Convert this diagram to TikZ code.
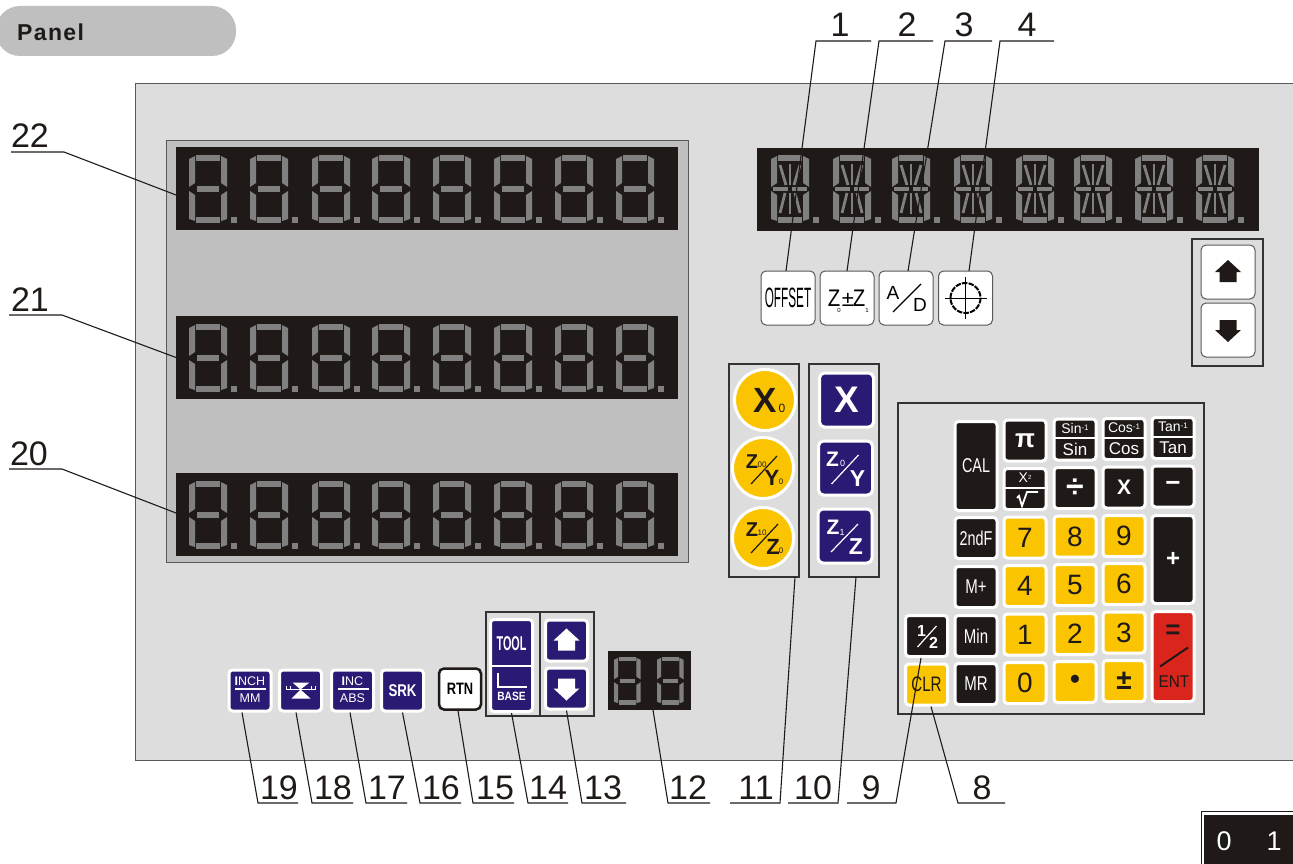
\documentclass[tikz,border=0pt]{standalone}
\usepackage{fontspec}
\setmainfont{Liberation Sans}
\usepackage{tikz}
\usetikzlibrary{calc}
\definecolor{dkbar}{HTML}{1F1A17}
\definecolor{segcol}{HTML}{808080}
\definecolor{panelbg}{HTML}{DDDDDD}
\definecolor{groupbg}{HTML}{BFBFBF}
\definecolor{keyblue}{HTML}{2B1A73}
\definecolor{keyyel}{HTML}{FAC400}
\definecolor{keyred}{HTML}{DA251D}
\newcommand{\pxfont}[1]{\fontsize{#1}{#1}\selectfont}
\newcommand{\cond}[2]{\scalebox{#1}[1]{#2}}
\tikzset{
  plate/.style={rectangle, inner sep=0pt, outer sep=0pt},
  darkbar/.style={plate, fill=dkbar},
  grpbox/.style={plate, draw=black!80, line width=1.2pt},
  whitebtn/.style={plate, fill=white, draw=black!65, line width=1pt, rounded corners=5pt, minimum size=54pt},
  padkey/.style={rectangle, inner sep=0pt, fill=dkbar, draw=white, line width=3pt, rounded corners=3.5pt, minimum width=42pt, minimum height=41pt, text=white},
  yelkey/.style={padkey, fill=keyyel, text=dkbar},
  bluekey/.style={padkey, fill=keyblue},
  yelcirc/.style={circle, inner sep=0pt, fill=keyyel, draw=white, line width=3pt, minimum size=61pt, text=dkbar},
  numlbl/.style={anchor=base, inner sep=0pt, font=\pxfont{34}, text=dkbar},
  leader/.style={draw=dkbar, line width=1.1pt},
  glyphline/.style={line width=1.2pt}
}
\newcommand{\segbase}[3]{%
  \begin{scope}[shift={(#1,#2)},scale=#3]
    \fill[segcol] (7,0) rectangle (31,6);
    \fill[segcol] (7,62) rectangle (31,68);
    \fill[segcol] (0,4) -- (6,1) -- (6,28) -- (0,32) -- cycle;
    \fill[segcol] (38,4) -- (32,1) -- (32,28) -- (38,32) -- cycle;
    \fill[segcol] (0,36) -- (6,40) -- (6,66) -- (0,64) -- cycle;
    \fill[segcol] (38,36) -- (32,40) -- (32,66) -- (38,64) -- cycle;
  \end{scope}}
\newcommand{\segdigit}[3]{%
  \segbase{#1}{#2}{#3}
  \fill[segcol,shift={(#1,#2)},scale=#3] (8,31) rectangle (30,37);}
\newcommand{\alphadigit}[2]{%
  \segbase{#1}{#2}{1}
  \begin{scope}[shift={(#1,#2)}]
    \fill[segcol] (2,32) rectangle (17,36);
    \fill[segcol] (21,32) rectangle (36,36);
    \draw[segcol,line width=2.8pt] (19,9) -- (19,30);
    \draw[segcol,line width=2.8pt] (19,38) -- (19,59);
    \draw[segcol,line width=2.8pt] (9,10) -- (15,30);
    \draw[segcol,line width=2.8pt] (29,10) -- (23,30);
    \draw[segcol,line width=2.8pt] (9,58) -- (14,38);
    \draw[segcol,line width=2.8pt] (29,58) -- (24,38);
  \end{scope}}
\newcommand{\segdot}[2]{\fill[segcol,shift={(#1,#2)}] (42,62) rectangle ++(6,6);}
\newcommand{\putlabels}[3]{%
  \foreach \sz/\dx/\dy/\txt [count=\i] in {#3}
    \node[inner sep=0pt, #2, font=\pxfont{\sz}] (#1-\i) at ([shift={(\dx,\dy)}]#1.center) {\txt};}
\newcommand{\slashon}[6]{\draw[glyphline,#2] ([shift={(#3,#4)}]#1.center) -- ([shift={(#5,#6)}]#1.center);}
\newcommand{\twokey}[1]{\draw[white,line width=2pt] ([shift={(0,-1.5)}]#1.west) -- ([shift={(0,-1.5)}]#1.east);}
\newcommand{\keyarrow}[3]{\fill[#2,shift={(#1.center)},yscale=#3] (0,-12) -- (13,0) -- (8.5,0) -- (8.5,10) -- (-8.5,10) -- (-8.5,0) -- (-13,0) -- cycle;}

\begin{document}
\begin{tikzpicture}[x=1pt,y=-1pt]
  \useasboundingbox[fill=white] (0,0) rectangle (1293,864);

  % header and panel
  \node[plate, fill=groupbg, rounded corners=24pt, minimum width=240pt, minimum height=50pt] (pill) at (116,31) {};
  \node[inner sep=0pt, anchor=west, font=\bfseries\pxfont{23}\addfontfeature{LetterSpace=6}, text=dkbar] (pilltxt) at (17,32) {Panel};
  \node[plate, fill=panelbg, draw=black!65, line width=1pt, minimum width=1170pt, minimum height=676pt] (panel) at (720,422) {};

  % displays
  \node[plate, fill=groupbg, draw=black!65, line width=1pt, minimum width=522pt, minimum height=421pt] (dispgrp) at (427,351.5) {};
  \node[darkbar, minimum width=502pt, minimum height=83pt] (bar22) at (427,188.5) {};
  \node[darkbar, minimum width=502pt, minimum height=83pt] (bar21) at (427,357.5) {};
  \node[darkbar, minimum width=502pt, minimum height=83pt] (bar20) at (427,514.5) {};
  \node[darkbar, minimum width=502pt, minimum height=83pt] (baralpha) at (1008,189.5) {};
  \node[darkbar, minimum width=83pt, minimum height=59pt] (bar12) at (649.5,680.5) {};
  \foreach \ytop in {155,324,481}
    \foreach \xd in {189,250,312,372,433,494,555,616} {
      \segdigit{\xd}{\ytop}{1}
      \segdot{\xd}{\ytop}
    }
  \foreach \xd in {771,833,892,954,1016,1074,1135,1196} {
    \alphadigit{\xd}{155}
    \segdot{\xd}{155}
  }
  \segdigit{614}{657}{0.7}
  \segdigit{657}{657}{0.7}

  % white buttons
  \node[whitebtn, font=\pxfont{28}] (ofs) at (788,298) {\cond{0.42}{OFFSET}};
  \node[whitebtn] (zpm) at (847,298) {};
  \node[whitebtn] (ad) at (906,298) {};
  \node[whitebtn] (crs) at (965.5,298) {};
  \putlabels{zpm}{text=black}{24/-13/0/\cond{0.85}{Z},6/-8/12/0,22/1/2/±,24/12/0/\cond{0.85}{Z},6/20/12/1}
  \putlabels{ad}{text=black}{19/-13/-5/A,19/14/7/D}
  \slashon{ad}{black}{-13}{14}{15}{-14}
  \draw[black,line width=2pt,dash pattern=on 5.5pt off 1.2pt] (crs.center) circle (15);
  \draw[black,line width=0.7pt] ([shift={(-21,0)}]crs.center) -- ([shift={(21,0)}]crs.center);
  \draw[black,line width=0.7pt] ([shift={(0,-21)}]crs.center) -- ([shift={(0,21)}]crs.center);

  \node[grpbox, minimum width=71pt, minimum height=127pt] (arrgrp) at (1227.5,302.5) {};
  \node[whitebtn] (wup) at (1228,272) {};
  \node[whitebtn] (wdn) at (1228,330) {};
  \keyarrow{wup}{dkbar}{1}
  \keyarrow{wdn}{dkbar}{-1}

  % axis keys
  \node[grpbox, minimum width=70pt, minimum height=213pt] (yelgrp) at (764,470.5) {};
  \node[grpbox, minimum width=70pt, minimum height=213pt] (blugrp) at (844,470.5) {};
  \node[yelcirc] (cx) at (765,400) {};
  \node[yelcirc] (cy) at (763,468) {};
  \node[yelcirc] (cz) at (763,538) {};
  \putlabels{cx}{text=dkbar}{35/0/0/\textbf{X},12/17/8/0}
  \putlabels{cy}{text=dkbar}{20/-11/-6/\textbf{Z},8/-1/-3/00,22/9/10/\textbf{Y},8/18/14/0}
  \putlabels{cz}{text=dkbar}{20/-11/-8/\textbf{Z},8/-1/-5/10,22/10/9/\textbf{Z},8/18/13/0}
  \slashon{cy}{dkbar}{-12}{16}{14}{-12}
  \slashon{cz}{dkbar}{-12}{15}{15}{-14}
  \node[bluekey, minimum width=54pt, minimum height=54pt, rounded corners=5pt] (bx) at (846.5,400) {};
  \node[bluekey, minimum width=54pt, minimum height=54pt, rounded corners=5pt] (by) at (845.5,468) {};
  \node[bluekey, minimum width=54pt, minimum height=54pt, rounded corners=5pt] (bz) at (845,536) {};
  \putlabels{bx}{text=white}{37/0/0/\textbf{X}}
  \putlabels{by}{text=white}{21/-13/-9/\textbf{Z},9/-3/-5/0,23/12/11/\textbf{Y}}
  \putlabels{bz}{text=white}{21/-12/-9/\textbf{Z},9/-3/-4/1,23/11/11/\textbf{Z}}
  \slashon{by}{white}{-14}{16}{13}{-13}
  \slashon{bz}{white}{-14}{16}{13}{-12}

  % keypad
  \node[plate, draw=black!80, line width=1.2pt, minimum width=306pt, minimum height=311pt] (pad) at (1051,558.5) {};
  \foreach \nm/\cx/\cy/\kh/\lbl in {
    kcal/976/466/89/{\pxfont{20}\cond{0.72}{CAL}},
    kpi/1025/440.5/41/{\pxfont{26}\bfseries π},
    ksin/1075/439.5/41/{},
    kcos/1124/439/41/{},
    ktan/1173/438/41/{},
    ksqrt/1025/489/41/{},
    kdiv/1075/488/41/{\pxfont{32}\bfseries ÷},
    kmul/1124/487.5/41/{\pxfont{21}\bfseries X},
    kminus/1173/486.5/41/{\pxfont{26}\bfseries −},
    ktwo/976/538/41/{\pxfont{20}\cond{0.72}{2ndF}},
    kplus/1173/559.5/88/{\pxfont{24}\bfseries +},
    kmp/976/587/41/{\pxfont{20}\cond{0.75}{M+}},
    khalf/926.5/636/41/{},
    kmin/976/636/41/{\pxfont{20}\cond{0.75}{Min}},
    kmr/976/684/41/{\pxfont{20}\cond{0.75}{MR}}}
    \node[padkey, minimum height=\kh pt] (\nm) at (\cx,\cy) {\lbl};
  \foreach \nm/\cx/\cy/\lbl in {
    k7/1025/537.5/7, k8/1075/536.5/8, k9/1124/536/9,
    k4/1025/586/4, k5/1075/585/5, k6/1124/584/6,
    k1/1025/634.5/1, k2/1075/634/2, k3/1124/632.5/3,
    k0/1025/683/0, kdot/1075/682/{\bfseries •}, kpm/1124/681/{\bfseries ±}}
    \node[yelkey, font=\pxfont{28}] (\nm) at (\cx,\cy) {\lbl};
  \node[yelkey, font=\pxfont{21}] (kclr) at (926.5,684.5) {\cond{0.72}{CLR}};
  \node[padkey, fill=keyred, text=dkbar, minimum height=90pt] (kent) at (1173,656.5) {};
  \putlabels{kent}{text=dkbar}{26/0/-25/\textbf{=},17/1/25/\cond{0.9}{ENT}}
  \draw[dkbar,line width=2pt] ([shift={(-13,10)}]kent.center) -- ([shift={(15,-9)}]kent.center);
  \foreach \nm/\tp/\bt in {ksin/Sin/Sin, kcos/Cos/Cos, ktan/Tan/Tan} {
    \twokey{\nm}
    \putlabels{\nm}{text=white}{14/0/-11/{\tp\raisebox{3pt}{\pxfont{8}-1}},17/0/10/\bt}
  }
  \twokey{ksqrt}
  \putlabels{ksqrt}{text=white}{14/0/-11/{X\raisebox{3pt}{\pxfont{6}2}}}
  \draw[white,line width=1.8pt] ([shift={(-8,9)}]ksqrt.center) -- ([shift={(-6,7)}]ksqrt.center) -- ([shift={(-3,17)}]ksqrt.center) -- ([shift={(2,3)}]ksqrt.center) -- ([shift={(13,3)}]ksqrt.center);
  \putlabels{khalf}{text=white}{16/-5/-5/\textbf{1},16/7/7/\textbf{2}}
  \slashon{khalf}{white}{-9}{11}{10}{-10}

  % bottom row
  \node[bluekey] (kinch) at (250,690.5) {};
  \node[bluekey] (kcent) at (300.5,690.5) {};
  \node[bluekey] (kinc) at (352.5,690.5) {};
  \node[bluekey, font=\bfseries\pxfont{17}] (ksrk) at (402.5,690.5) {\cond{0.78}{SRK}};
  \node[padkey, fill=white, draw=dkbar, line width=2.5pt, text=black, minimum width=42pt, font=\bfseries\pxfont{16.5}, rounded corners=5pt] (krtn) at (460,689) {\cond{0.78}{RTN}};
  \foreach \nm/\tp/\bt in {kinch/{\textbf{I}NCH}/MM, kinc/{\textbf{I}NC}/ABS} {
    \draw[white,line width=1.5pt] ([shift={(-15,-1.5)}]\nm.center) -- ([shift={(16,-1.5)}]\nm.center);
    \putlabels{\nm}{text=white}{12.5/0/-9/\tp,12.5/0/7.5/\bt}
  }
  \fill[white] ([shift={(-8,-8)}]kcent.center) -- ([shift={(9,-8)}]kcent.center) -- ([shift={(0,-1)}]kcent.center) -- ([shift={(10,8)}]kcent.center) -- ([shift={(-9,8)}]kcent.center) -- ([shift={(0,-1)}]kcent.center) -- cycle;
  \draw[white,line width=1pt] ([shift={(-14,-5)}]kcent.center) -- ([shift={(-14,-1.5)}]kcent.center) -- ([shift={(15,-1.5)}]kcent.center) -- ([shift={(15,-5)}]kcent.center);
  \draw[white,line width=1pt] ([shift={(-10,-5)}]kcent.center) -- ([shift={(-10,-1.5)}]kcent.center);
  \draw[white,line width=1pt] ([shift={(11,-5)}]kcent.center) -- ([shift={(11,-1.5)}]kcent.center);

  \node[grpbox, minimum width=108pt, minimum height=104pt] (toolgrp) at (540,664) {};
  \draw[black!80,line width=1.2pt] (toolgrp.north) -- (toolgrp.south);
  \node[bluekey, minimum height=92pt] (ktool) at (511.5,665.5) {};
  \node[bluekey] (kup) at (566.5,640.5) {};
  \node[bluekey] (kdn) at (566.5,688.5) {};
  \keyarrow{kup}{white}{1}
  \keyarrow{kdn}{white}{-1}
  \draw[white,line width=2pt] (ktool.west) -- (ktool.east);
  \putlabels{ktool}{text=white}{20/0/-21.5/\textbf{\cond{0.54}{TOOL}},12/0/30.5/\textbf{\cond{0.85}{BASE}}}
  \draw[white,line width=2pt] ([shift={(-13.5,7.5)}]ktool.center) -- ([shift={(-13.5,21.5)}]ktool.center) -- ([shift={(15.5,21.5)}]ktool.center);

  % corner switch
  \node[plate, fill=white, draw=dkbar, line width=1pt, minimum width=96pt, minimum height=57pt] (swbox) at (1249,839.5) {};
  \node[darkbar, minimum width=90pt, minimum height=52pt] (swin) at (1249,841) {};
  \node[inner sep=0pt, text=white, font=\pxfont{27}] (sw0) at (1224,841) {0};
  \node[inner sep=0pt, text=white, font=\pxfont{27}] (sw1) at (1274,841) {1};

  % callouts
  \foreach \num/\tx/\uy/\el/\fr/\tgt/\sx/\sy in {
    1/840/41/816/871/ofs.north/-2/0,
    2/907/41/879/933/zpm.north/0/0,
    3/964/41/945/992/ad.north/2/0,
    4/1027/41/1000/1054/crs.north/3.5/0,
    22/30/152/64/11/bar22.west/0/-6.5,
    21/30/315/62/9/bar21.west/0/0,
    20/29/469/62/9/bar20.west/0/1.5,
    19/279/803/258/298/kinch.south/-8/0,
    18/333/803/312/353/kcent.south/-4.5/0,
    17/387/803/366/407/kinc.south/-2.5/0,
    16/441/803/420/461/ksrk.south/0/0,
    15/495/803/473/514/krtn.south/-2/0,
    14/548/803/528/568/ktool.south/0/0,
    13/603/803/582/626/kdn.south/0/0,
    12/688/803/668/710/bar12.south/3.5/0,
    11/756/803/780/730/yelgrp.south/31/0,
    10/813/803/838/788/blugrp.south/12/0,
    9/871/803/896/847/khalf.south/-5.5/0,
    8/982/803/958/1005/kclr.south/4.5/0} {
    \node[numlbl] (lbl\num) at (\tx,\uy-4) {\num};
    \coordinate (elb\num) at (\el,\uy);
    \coordinate (end\num) at (\fr,\uy);
    \draw[leader] (end\num) -- (elb\num) -- ([xshift=\sx pt,yshift=\sy pt]\tgt);
  }
\end{tikzpicture}
\end{document}
